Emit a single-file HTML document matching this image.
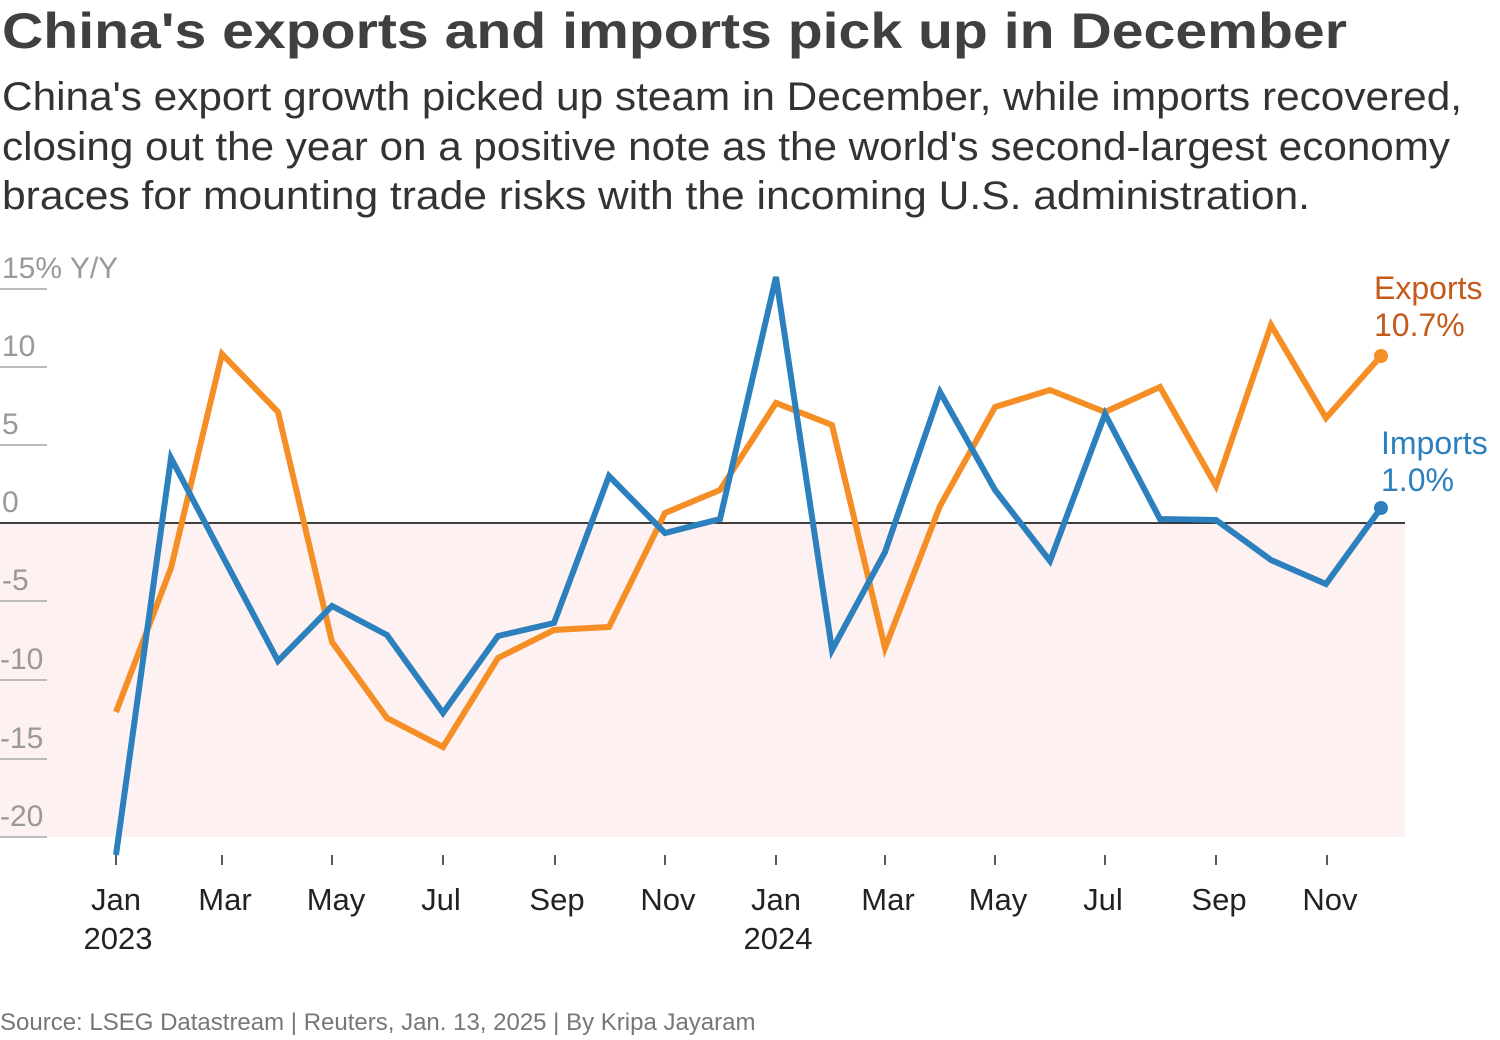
<!DOCTYPE html>
<html><head><meta charset="utf-8"><style>
html,body{margin:0;padding:0;background:#fff;}
svg{display:block;font-family:"Liberation Sans",sans-serif;}
</style></head><body>
<svg width="1500" height="1040" viewBox="0 0 1500 1040" xmlns="http://www.w3.org/2000/svg">
<text x="2" y="48" font-size="50" font-weight="bold" fill="#404040" textLength="1345" lengthAdjust="spacingAndGlyphs">China's exports and imports pick up in December</text>
<g font-size="40" fill="#333">
<text x="2" y="110" textLength="1460" lengthAdjust="spacingAndGlyphs">China's export growth picked up steam in December, while imports recovered,</text>
<text x="2" y="160" textLength="1448" lengthAdjust="spacingAndGlyphs">closing out the year on a positive note as the world's second-largest economy</text>
<text x="2" y="209" textLength="1308" lengthAdjust="spacingAndGlyphs">braces for mounting trade risks with the incoming U.S. administration.</text>
</g>
<rect x="0" y="523" width="1405" height="314" fill="#fdf1f1"/>
<g stroke="#bbb" stroke-width="2">
<line x1="0" y1="289" x2="47" y2="289"/><line x1="0" y1="367" x2="47" y2="367"/><line x1="0" y1="445" x2="47" y2="445"/>
<line x1="0" y1="601" x2="47" y2="601"/><line x1="0" y1="680" x2="47" y2="680"/><line x1="0" y1="759" x2="47" y2="759"/><line x1="0" y1="837" x2="47" y2="837"/>
</g>
<g font-size="30" fill="#999">
<text x="2" y="278">15% Y/Y</text><text x="2" y="356">10</text><text x="2" y="434">5</text><text x="2" y="512">0</text>
<text x="2" y="590">-5</text><text x="0" y="669">-10</text><text x="0" y="748">-15</text><text x="0" y="826">-20</text>
</g>
<line x1="0" y1="523" x2="1405" y2="523" stroke="#000" stroke-width="1.6"/>
<g stroke="#222" stroke-width="1.5">
<line x1="116" y1="855" x2="116" y2="865"/><line x1="222" y1="855" x2="222" y2="865"/><line x1="332" y1="855" x2="332" y2="865"/>
<line x1="443" y1="855" x2="443" y2="865"/><line x1="555" y1="855" x2="555" y2="865"/><line x1="665" y1="855" x2="665" y2="865"/>
<line x1="776" y1="855" x2="776" y2="865"/><line x1="885" y1="855" x2="885" y2="865"/><line x1="995" y1="855" x2="995" y2="865"/>
<line x1="1105" y1="855" x2="1105" y2="865"/><line x1="1216" y1="855" x2="1216" y2="865"/><line x1="1327" y1="855" x2="1327" y2="865"/>
</g>
<g font-size="31" fill="#222" text-anchor="middle">
<text x="116" y="910">Jan</text><text x="118" y="949">2023</text><text x="225" y="910">Mar</text><text x="336" y="910">May</text>
<text x="441" y="910">Jul</text><text x="557" y="910">Sep</text><text x="668" y="910">Nov</text><text x="776" y="910">Jan</text>
<text x="778" y="949">2024</text><text x="888" y="910">Mar</text><text x="998" y="910">May</text><text x="1103" y="910">Jul</text>
<text x="1219" y="910">Sep</text><text x="1330" y="910">Nov</text>
</g>
<polyline fill="none" stroke="#f68e26" stroke-width="6" stroke-linejoin="miter" points="116,712 171,568 222,354 278,412 332,642 387,718 443,747 498,658 554,630 609,627 665,513 720,490 776,403 832,425 885,648 940,506 995,407 1050,390 1105,412 1160,387 1216,486 1271,325 1326,418 1381,356"/>
<polyline fill="none" stroke="#2c80bd" stroke-width="6" stroke-linejoin="miter" points="116,855 171,458 222,555 278,661 332,606 387,635 443,713 498,636 554,623 609,476 665,533 720,519 776,277 832,650 885,552 940,392 995,490 1050,561 1105,414 1160,519 1216,520 1271,560 1326,584 1381,508"/>
<circle cx="1381" cy="356" r="7" fill="#f68e26"/>
<circle cx="1381" cy="508" r="7" fill="#2c80bd"/>
<g font-size="32" fill="#c55a1c"><text x="1374" y="299">Exports</text><text x="1374" y="336">10.7%</text></g>
<g font-size="32" fill="#2c80bd"><text x="1381" y="454">Imports</text><text x="1381" y="491">1.0%</text></g>
<text x="0" y="1030" font-size="24" fill="#777">Source: LSEG Datastream | Reuters, Jan. 13, 2025 | By Kripa Jayaram</text>
</svg>
</body></html>
